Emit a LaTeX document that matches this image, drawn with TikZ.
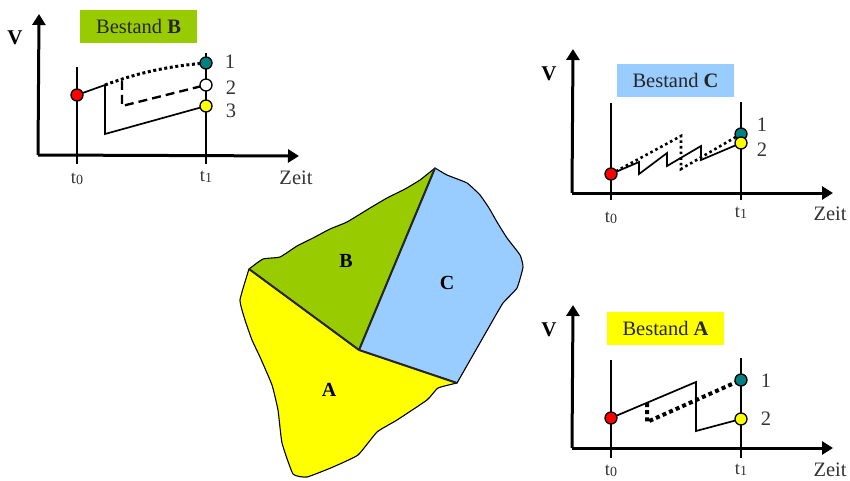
\documentclass[tikz,border=0pt]{standalone}
\usepackage{fontspec}
\setmainfont{Liberation Serif}
\usetikzlibrary{arrows.meta}
\definecolor{cb}{HTML}{99CC00}
\definecolor{cc}{HTML}{99CCFF}
\definecolor{ca}{HTML}{FFFF00}
\definecolor{teal1}{HTML}{008080}
\definecolor{txt}{HTML}{333333}
\tikzset{
  axis/.style={line width=3pt,-{Triangle[length=11pt,width=13pt]}},
  tline/.style={line width=2.6pt},
  solidl/.style={line width=1.7pt,line join=miter},
  dotl/.style={line width=3pt,dash pattern=on 3pt off 2.6pt},
  dotlight/.style={line width=2.6pt,dash pattern=on 2.6pt off 3pt},
  dotheavy/.style={line width=4pt,dash pattern=on 4pt off 3.2pt},
  dashl/.style={line width=2.4pt,dash pattern=on 9pt off 5pt},
  pt/.style={circle,draw=black,line width=1.3pt,minimum size=12pt,inner sep=0pt},
  lab/.style={inner sep=0pt,font=\fontsize{20.5}{22}\selectfont,text=txt},
  tlab/.style={inner sep=0pt,font=\fontsize{18.5}{20}\selectfont,text=txt},
  vlab/.style={inner sep=0pt,font=\fontsize{21}{22}\selectfont\bfseries},
  titlebox/.style={minimum width=117pt,minimum height=33pt,inner sep=0pt,font=\fontsize{20.5}{22}\selectfont,text=black!85},
  regl/.style={inner sep=0pt,font=\fontsize{20}{22}\selectfont\bfseries},
  region/.style={draw=black,line width=1.1pt,line join=round},
  inner/.style={draw=black!85,line width=2pt},
}
\newcommand{\tsub}[1]{t\raisebox{-1.5pt}{\fontsize{14}{15}\selectfont #1}}
\begin{document}
\begin{tikzpicture}[x=1pt,y=-1pt]
\useasboundingbox (0,0) rectangle (850,481);
% Regions
\coordinate (top) at (435,168);
\coordinate (mid) at (359,350);
\coordinate (lft) at (249,269);
\coordinate (rgt) at (457,383);
\draw[region,fill=cc] plot[smooth,tension=0.25] coordinates {(435,168) (447,175) (467,183) (480,195) (489,208) (497,222) (507,238) (520,255) (523,267) (517,288) (503,303) (493,320)} -- (rgt) -- (mid) -- cycle;
\draw[region,fill=cb] plot[smooth,tension=0.25] coordinates {(249,269) (263,259) (280,257) (297,246) (313,238) (330,229) (347,222) (370,208) (387,198) (405,189) (420,180) (435,168)} -- (mid) -- cycle;
\draw[region,fill=ca] plot[smooth,tension=0.25] coordinates {(249,269) (240,300) (245,320) (252,340) (260,357) (272,385) (278,410) (282,443) (293,474) (307,477) (333,467) (358,455) (377,432) (397,420) (427,400) (438,388) (457,383)} -- (mid) -- cycle;
\draw[inner] (top) -- (mid);
\draw[inner] (lft) -- (mid);
\draw[inner] (mid) -- (rgt);
\node[regl] (rb) at (346,261) {B};
\node[regl] (rc) at (447,283) {C};
\node[regl] (ra) at (329,390) {A};

% Chart B
\node[titlebox,fill=cb] (bt) at (138.5,26.5) {Bestand \textbf{B}};
\coordinate (bo) at (38,155);
\coordinate (bytip) at (39,14);
\coordinate (bxtip) at (299,156);
\draw[axis] (bo) -- (bytip);
\draw[axis] (bo) -- (bxtip);
\coordinate (bt0a) at (77,67); \coordinate (bt0b) at (77,164);
\coordinate (bt1a) at (206,53); \coordinate (bt1b) at (206,164);
\draw[tline] (bt0a) -- (bt0b);
\draw[tline] (bt1a) -- (bt1b);
\coordinate (bk1) at (105,85); \coordinate (bk2) at (105,134);
\coordinate (bd1) at (122,81); \coordinate (bd2) at (122,106);
\draw[solidl] (77,95) -- (bk1) -- (bk2) -- (206,106);
\draw[dotl] (bk1) .. controls (140,72) and (170,66) .. (206,63);
\draw[dashl] (bd1) -- (bd2) -- (206,85);
\node[pt,fill=red] (bred) at (77,95) {};
\node[pt,fill=teal1] (b1) at (206,63) {};
\node[pt,fill=white] (b2) at (206,85) {};
\node[pt,fill=ca] (b3) at (206,106) {};
\node[vlab] (bv) at (15,38) {V};
\node[tlab] (bl0) at (77,179) {\tsub{0}};
\node[tlab] (bl1) at (206,177) {\tsub{1}};
\node[lab] (bz) at (296,178) {Zeit};
\node[lab] (bn1) at (230,62) {1};
\node[lab] (bn2) at (231,88) {2};
\node[lab] (bn3) at (231,111) {3};

% Chart C
\node[titlebox,fill=cc] (ct) at (675.5,80.5) {Bestand \textbf{C}};
\coordinate (co) at (572,193);
\coordinate (cytip) at (573,49);
\coordinate (cxtip) at (833,193);
\draw[axis] (co) -- (cytip);
\draw[axis] (co) -- (cxtip);
\coordinate (ct0a) at (611,103); \coordinate (ct0b) at (611,200);
\coordinate (ct1a) at (741,102); \coordinate (ct1b) at (741,200);
\draw[tline] (ct0a) -- (ct0b);
\draw[tline] (ct1a) -- (ct1b);
\coordinate (cs1) at (639,162); \coordinate (cs2) at (639,174);
\coordinate (cs3) at (667,153); \coordinate (cs4) at (667,166);
\coordinate (cs5) at (701,146); \coordinate (cs6) at (701,160);
\coordinate (cd1) at (681,136); \coordinate (cd2) at (681,169);
\draw[solidl] (611,174) -- (cs1) -- (cs2) -- (cs3) -- (cs4) -- (cs5) -- (cs6) -- (741,143);
\draw[dotlight] (611,174) -- (cd1) -- (cd2) -- (741,134);
\node[pt,fill=red] (cred) at (611,174) {};
\node[pt,fill=teal1] (c1) at (741,134) {};
\node[pt,fill=ca] (c2) at (741,143) {};
\node[vlab] (cv) at (549,74) {V};
\node[tlab] (cl0) at (611,218) {\tsub{0}};
\node[tlab] (cl1) at (741,213) {\tsub{1}};
\node[lab] (cz) at (830,214) {Zeit};
\node[lab] (cn1) at (762,125) {1};
\node[lab] (cn2) at (762,150) {2};

% Chart A
\node[titlebox,fill=ca] (at) at (665.5,328.5) {Bestand \textbf{A}};
\coordinate (ao) at (572,448);
\coordinate (aytip) at (573,305);
\coordinate (axtip) at (833,448);
\draw[axis] (ao) -- (aytip);
\draw[axis] (ao) -- (axtip);
\coordinate (at0a) at (611,360); \coordinate (at0b) at (611,458);
\coordinate (at1a) at (741,358); \coordinate (at1b) at (741,458);
\draw[tline] (at0a) -- (at0b);
\draw[tline] (at1a) -- (at1b);
\coordinate (as1) at (696,382); \coordinate (as2) at (696,431);
\coordinate (ad1) at (647,403); \coordinate (ad2) at (647,422);
\draw[solidl] (611,418) -- (as1) -- (as2) -- (741,419);
\draw[dotheavy] (ad1) -- (ad2) -- (741,380);
\node[pt,fill=red] (ared) at (611,418) {};
\node[pt,fill=teal1] (a1) at (741,380) {};
\node[pt,fill=ca] (a2) at (741,419) {};
\node[vlab] (av) at (549,330) {V};
\node[tlab] (al0) at (611,471) {\tsub{0}};
\node[tlab] (al1) at (741,470) {\tsub{1}};
\node[lab] (az) at (830,470) {Zeit};
\node[lab] (an1) at (766,381) {1};
\node[lab] (an2) at (766,419) {2};
\end{tikzpicture}
\end{document}
